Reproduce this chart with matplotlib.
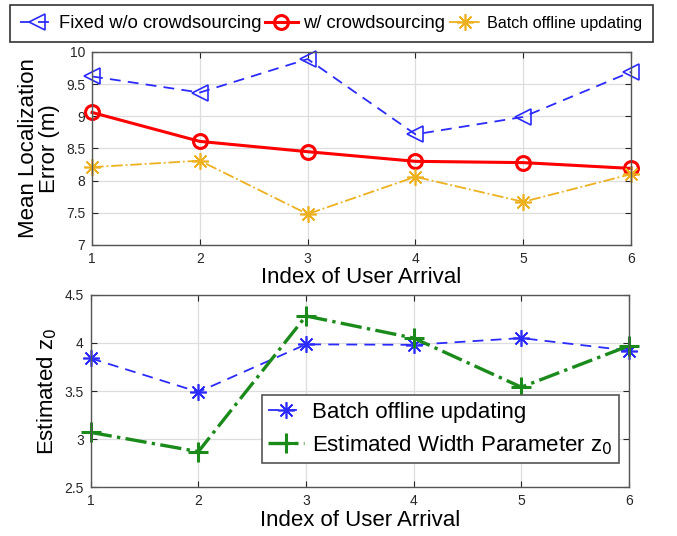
import matplotlib
matplotlib.use('Agg')
import matplotlib.pyplot as plt
import numpy as np

plt.rcParams['font.family'] = ['Liberation Sans', 'DejaVu Sans']

# donnees
arrivee = [1, 2, 3, 4, 5, 6]
sans_crowd = [9.62, 9.37, 9.89, 8.72, 8.99, 9.69]
avec_crowd = [9.06, 8.61, 8.45, 8.30, 8.28, 8.19]
batch_err = [8.21, 8.31, 7.48, 8.06, 7.67, 8.10]

batch_z0 = [3.84, 3.49, 3.985, 3.98, 4.05, 3.92]
largeur_z0 = [3.07, 2.87, 4.28, 4.05, 3.54, 3.97]

fig = plt.figure(figsize=(6.77, 5.36), dpi=100)
ax1 = fig.add_axes([0.136, 0.543, 0.796, 0.360])
ax2 = fig.add_axes([0.134, 0.091, 0.795, 0.359])

bleu = '#2b2bff'
jaune = '#EDB120'
vert = '#1a8a1a'
gris = '#262626'

l1, = ax1.plot(arrivee, sans_crowd, '--', color=bleu, lw=1.3, marker='<',
               ms=12, mfc='none', mec=bleu, mew=1.2, dashes=(6, 4),
               label='Fixed w/o crowdsourcing', clip_on=False)
l2, = ax1.plot(arrivee, avec_crowd, '-', color='#ff0000', lw=2.2, marker='o',
               ms=10, mfc='none', mew=2.2, label='w/ crowdsourcing', clip_on=False)
l3, = ax1.plot(arrivee, batch_err, '-.', color=jaune, lw=1.3, marker=(8, 2, 0),
               ms=12, mew=1.2, label='Batch offline updating', clip_on=False)

ax1.set_xlim(1, 6)
ax1.set_ylim(7, 10)
ax1.set_yticks(np.arange(7, 10.01, 0.5))
ax1.set_yticklabels(['7', '7.5', '8', '8.5', '9', '9.5', '10'])
ax1.set_xlabel('Index of User Arrival', fontsize=16, labelpad=1)
ax1.set_ylabel('Mean Localization\nError (m)', fontsize=16, linespacing=1.0)

ax2.plot(arrivee, batch_z0, '--', color=bleu, lw=1.3, marker=(8, 2, 0),
         ms=12, mew=1.2, dashes=(6, 4), label='Batch offline updating',
         clip_on=False)
ax2.plot(arrivee, largeur_z0, '-.', color=vert, lw=2.4, marker='+',
         ms=14, mew=2.2, label=r'Estimated Width Parameter z$_0$', clip_on=False)
ax2.set_xlim(1, 6)
ax2.set_ylim(2.5, 4.5)
ax2.set_yticks([2.5, 3, 3.5, 4, 4.5])
ax2.set_yticklabels(['2.5', '3', '3.5', '4', '4.5'])
ax2.set_xlabel('Index of User Arrival', fontsize=16, labelpad=1)
ax2.set_ylabel(r'Estimated z$_0$', fontsize=16)

for ax in (ax1, ax2):
    ax.set_xticks(arrivee)
    ax.grid(True, color='#dddddd', lw=0.9)
    ax.set_axisbelow(True)
    ax.tick_params(direction='in', top=True, right=True, labelsize=10,
                   colors=gris, length=4, width=0.8, pad=5)
    for s in ax.spines.values():
        s.set_color('#555555')
        s.set_linewidth(1.0)

leg2 = ax2.legend(loc='lower right', bbox_to_anchor=(0.981, 0.125),
                  fontsize=16, frameon=True, fancybox=False, framealpha=1,
                  handlelength=1.6, handletextpad=0.35, borderpad=0.3,
                  labelspacing=0.45, borderaxespad=0)
leg2.get_frame().set_edgecolor('#555555')
leg2.get_frame().set_linewidth(1.2)

leg1 = fig.legend(handles=[l1, l2, l3], loc='upper left', ncol=3,
                  bbox_to_anchor=(10 / 677, 1 - 5 / 536),
                  fontsize=13.2, frameon=True, fancybox=False, framealpha=1,
                  handlelength=1.8, handletextpad=0.3, columnspacing=0.2,
                  borderpad=0.55, borderaxespad=0)
leg1.get_frame().set_edgecolor('#333333')
leg1.get_frame().set_linewidth(1.2)
leg1.get_texts()[2].set_fontsize(11.6)

fig.savefig('out.png', dpi=100)
